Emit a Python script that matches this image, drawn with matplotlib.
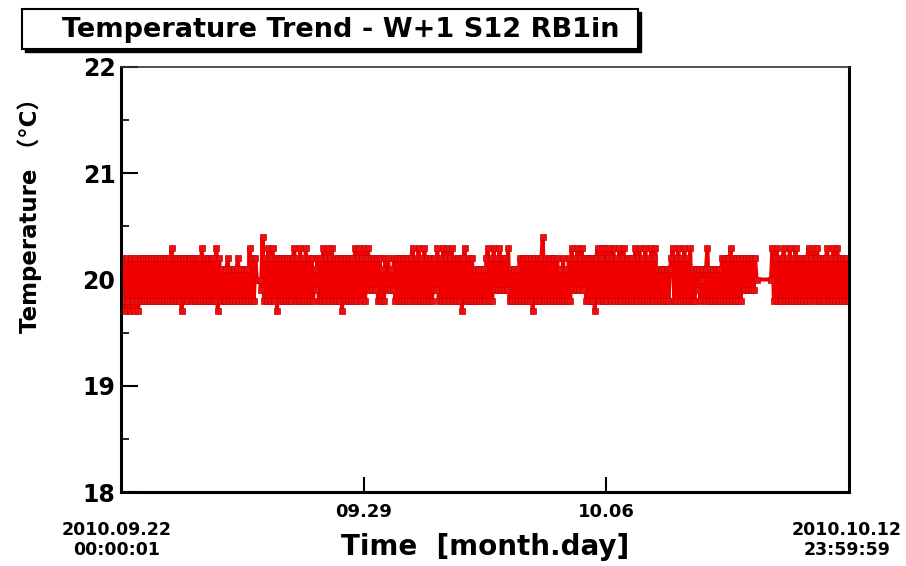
import matplotlib
matplotlib.use("Agg")
import matplotlib.pyplot as plt
from matplotlib.patches import Rectangle

# ---- data: hourly readings, one string per day (code: 7=19.7 ... 4=20.4, '-' = no data)
hourly_readings = [
    "928728728728728282828282",  # 09.22
    "828282828283828282728282",  # 09.23
    "282828283828282828372818",  # 09.24
    "812818181281818183828200",  # 09.25
    "094828382382728282828282",  # 09.26
    "382838283828281928283823",  # 09.27
    "823828282728282828382382",  # 09.28
    "382392929282818292919282",  # 09.29
    "828282828238283828382828",  # 09.30
    "929382838238238282827238",  # 10.01
    "828281818181823828392939",  # 10.02
    "292938181818282828282728",  # 10.03
    "828248282828282818281828",  # 10.04
    "392939239282828272382383",  # 10.05
    "823823828382382828283823",  # 10.06
    "828382838238181818181238",  # 10.07
    "823828382838181918018138",  # 10.08
    "181818182828283828282829",  # 10.09
    "929292920---------038238",  # 10.10
    "282382838283828282823823",  # 10.11
    "823828282382838238282828",  # 10.12
]
code_values = {"7": 19.7, "8": 19.8, "9": 19.9, "0": 20.0,
               "1": 20.1, "2": 20.2, "3": 20.3, "4": 20.4}

x_tick_days = [7, 14]
x_tick_labels = ["09.29", "10.06"]
y_ticks = [18, 19, 20, 21, 22]
start_label = "2010.09.22\n00:00:01"
end_label = "2010.10.12\n23:59:59"
title = "Temperature Trend - W+1 S12 RB1in"

t_days, temps = [], []
for d, s in enumerate(hourly_readings):
    for h, c in enumerate(s):
        if c == "-":
            continue
        t_days.append(d + h / 24.0)
        temps.append(code_values[c])

plt.rcParams["font.family"] = ["DejaVu Sans", "Noto Sans CJK JP"]

W, H = 906, 566
fig = plt.figure(figsize=(W / 100, H / 100), dpi=100)
ax = fig.add_axes([121 / W, 1 - 492 / H, 728 / W, 425 / H])

ax.plot(t_days, temps, color="#f20000", lw=2.9, marker="s", markersize=4.6,
        markerfacecolor="#e81010", markeredgecolor="#d00000", markeredgewidth=0.5,
        solid_joinstyle="miter")

ax.set_xlim(0, 21)
ax.set_ylim(18, 22)
ax.set_yticks(y_ticks)
ax.set_yticks([18.5, 19.5, 20.5, 21.5], minor=True)
ax.set_xticks(x_tick_days)
ax.set_xticklabels(x_tick_labels)
ax.tick_params(axis="y", which="major", direction="in", length=12, width=1.5,
               labelsize=17, pad=4)
ax.tick_params(axis="y", which="minor", direction="in", length=6, width=1.2)
ax.tick_params(axis="x", which="major", direction="in", length=11, width=1.5,
               labelsize=13, pad=8)
for lab in ax.get_yticklabels() + ax.get_xticklabels():
    lab.set_fontweight("bold")

for side in ["left", "bottom", "right"]:
    ax.spines[side].set_linewidth(2.2)
    ax.spines[side].set_color("black")
ax.spines["top"].set_linewidth(1.2)
ax.spines["top"].set_color("#333333")

# title box with shadow
bx, by, bw, bh = 22, 9, 616, 40
fig.patches.append(Rectangle(((bx + 3) / W, 1 - (by + bh + 3) / H), bw / W, bh / H,
                             transform=fig.transFigure, facecolor="black",
                             edgecolor="black", zorder=1))
fig.patches.append(Rectangle((bx / W, 1 - (by + bh) / H), bw / W, bh / H,
                             transform=fig.transFigure, facecolor="white",
                             edgecolor="black", linewidth=1.5, zorder=2))
fig.text(341 / W, 1 - 30 / H, title, ha="center", va="center", fontsize=19.5,
         fontweight="bold", zorder=3)

fig.text(30 / W, 1 - 210 / H, "Temperature （°C）", rotation=90, ha="center",
         va="center", fontsize=16.5, fontweight="bold")
fig.text(485 / W, 1 - 547 / H, "Time  [month.day]", ha="center", va="center",
         fontsize=20, fontweight="bold")
fig.text(117 / W, 1 - 540 / H, start_label, ha="center", va="center",
         fontsize=12.5, fontweight="bold", linespacing=1.2)
fig.text(847 / W, 1 - 540 / H, end_label, ha="center", va="center",
         fontsize=12.5, fontweight="bold", linespacing=1.2)

fig.savefig("out.png", dpi=100)
